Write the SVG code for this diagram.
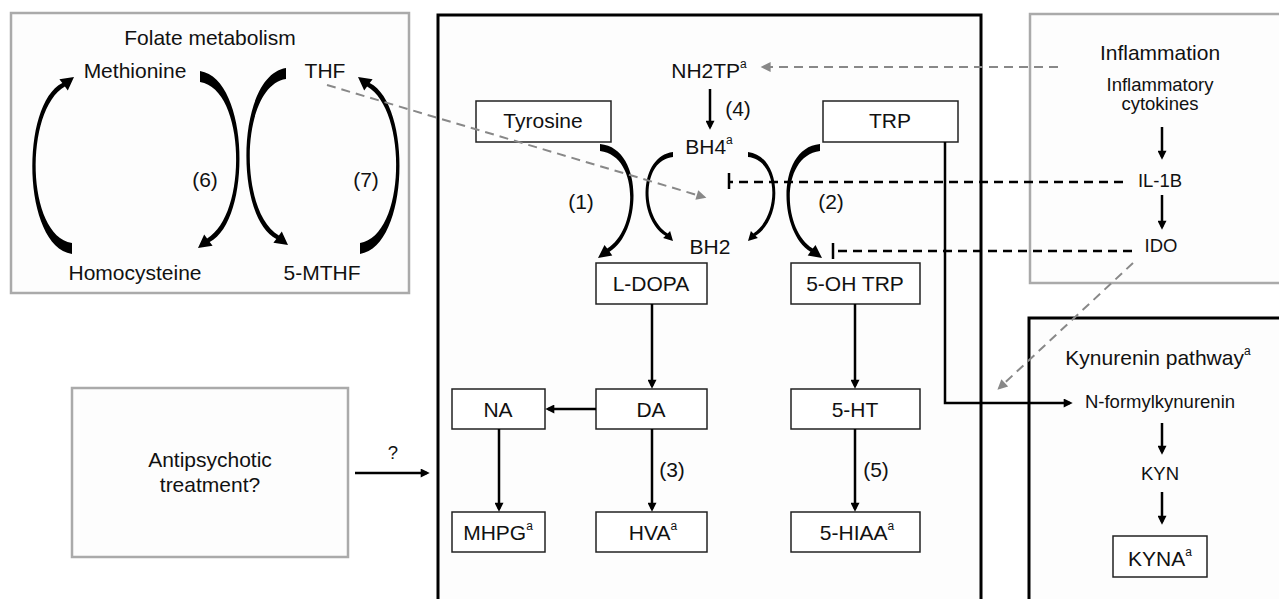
<svg xmlns="http://www.w3.org/2000/svg" width="1279" height="599" viewBox="0 0 1279 599">
<style>
text{font-family:"Liberation Sans",Arial,sans-serif;fill:#111;text-anchor:middle}
.big{font-size:21px}
.sm{font-size:18.5px}
.sup{font-size:12px}
.gbox{fill:#fdfdfd;stroke:#aaaaaa;stroke-width:2.5}
.mbox{fill:#fdfdfd;stroke:#000;stroke-width:3}
.nbox{fill:#fff;stroke:#222;stroke-width:1.5}
.arr{fill:none;stroke:#000;stroke-width:2.5;marker-end:url(#ah)}
.gdash{fill:none;stroke:#888;stroke-width:2;stroke-dasharray:9 6;marker-end:url(#gh)}
.kdash{fill:none;stroke:#000;stroke-width:2.5;stroke-dasharray:9 6}
.bar{stroke:#000;stroke-width:2.5}
.arc{fill:#000;stroke:none}
</style>
<defs>
<marker id="ah" markerUnits="userSpaceOnUse" viewBox="0 0 10 10" refX="7" refY="5" markerWidth="10" markerHeight="9" orient="auto"><path d="M0,0 L10,5 L0,10 Z" fill="#000"/></marker>
<marker id="gh" markerUnits="userSpaceOnUse" viewBox="0 0 10 10" refX="7.6" refY="5" markerWidth="13" markerHeight="10" orient="auto"><path d="M0,0 L10,5 L0,10 Z" fill="#888"/></marker>
<path id="farc" d="M72,254 C22,246 20,104 62.3,83 L59.4,79.2 L74,77 L67.8,90.4 L64.9,86.6 C24,110 26,236 72,243 Z"/>
<path id="marc" d="M600,144 C644,148 642,232 609.6,251.8 L612.3,255.4 L598,258 L604.5,245 L607.2,248.6 C638,230 640,156 600,151 Z"/>
<path id="sarc" d="M748,152 C782,156 784,218 755.5,235.7 L757.9,238.1 L748,241 L750.9,231.1 L753.3,233.5 C780,216 779,160 748,157 Z"/>
</defs>
<rect width="1279" height="599" fill="#fff"/>

<g id="folate">
<rect class="gbox" x="11" y="13" width="398" height="280"/>
<text class="big" x="210" y="45">Folate metabolism</text>
</g>
<g id="methionine"><text class="big" x="135" y="78">Methionine</text></g>
<g id="thf"><text class="big" x="325" y="78">THF</text></g>
<g id="homocysteine"><text class="big" x="135" y="280">Homocysteine</text></g>
<g id="mthf"><text class="big" x="322" y="280">5-MTHF</text></g>

<g id="antipsychotic">
<rect class="gbox" x="72" y="388" width="276" height="169"/>
<text class="big" x="210" y="467">Antipsychotic</text>
<text class="big" x="210" y="492">treatment?</text>
</g>

<g id="inflammation">
<rect class="gbox" x="1030" y="14" width="270" height="269"/>
<text class="big" x="1160" y="60">Inflammation</text>
</g>
<g id="cytokines">
<text class="sm" x="1160" y="91">Inflammatory</text>
<text class="sm" x="1160" y="110">cytokines</text>
</g>
<g id="il1b"><text class="sm" x="1160" y="187">IL-1B</text></g>
<g id="ido"><text class="sm" x="1161" y="252">IDO</text></g>

<g id="monoamine">
<rect class="mbox" x="438" y="15" width="543" height="600"/>
</g>

<g id="kynurenin">
<rect class="mbox" x="1029" y="318" width="270" height="300"/>
<text class="big" x="1158" y="365">Kynurenin pathway<tspan class="sup" dy="-10">a</tspan></text>
</g>
<g id="nformyl"><text class="sm" x="1160" y="408">N-formylkynurenin</text></g>
<g id="kyn"><text class="sm" x="1160" y="480">KYN</text></g>
<g id="kyna">
<rect class="nbox" x="1113" y="536" width="94" height="41"/>
<text class="big" x="1160" y="566">KYNA<tspan class="sup" dy="-10">a</tspan></text>
</g>

<g id="nh2tp"><text class="big" x="709" y="78">NH2TP<tspan class="sup" dy="-10">a</tspan></text></g>
<g id="bh4"><text class="big" x="709" y="154">BH4<tspan class="sup" dy="-10">a</tspan></text></g>
<g id="bh2"><text class="big" x="710" y="254">BH2</text></g>

<g id="tyrosine"><rect class="nbox" x="476" y="101" width="135" height="41"/><text class="big" x="543" y="128">Tyrosine</text></g>
<g id="trp"><rect class="nbox" x="823" y="101" width="135" height="41"/><text class="big" x="890" y="128">TRP</text></g>
<g id="ldopa"><rect class="nbox" x="596" y="263" width="111" height="41"/><text class="big" x="651" y="291">L-DOPA</text></g>
<g id="ohtrp"><rect class="nbox" x="791" y="263" width="129" height="41"/><text class="big" x="855" y="291">5-OH TRP</text></g>
<g id="na"><rect class="nbox" x="452" y="389" width="93" height="40"/><text class="big" x="498" y="417">NA</text></g>
<g id="da"><rect class="nbox" x="596" y="389" width="111" height="40"/><text class="big" x="651" y="417">DA</text></g>
<g id="ht"><rect class="nbox" x="791" y="389" width="129" height="40"/><text class="big" x="855" y="417">5-HT</text></g>
<g id="mhpg"><rect class="nbox" x="452" y="512" width="93" height="40"/><text class="big" x="498" y="540">MHPG<tspan class="sup" dy="-10">a</tspan></text></g>
<g id="hva"><rect class="nbox" x="596" y="512" width="111" height="40"/><text class="big" x="653" y="540">HVA<tspan class="sup" dy="-10">a</tspan></text></g>
<g id="hiaa"><rect class="nbox" x="791" y="512" width="129" height="40"/><text class="big" x="857" y="540">5-HIAA<tspan class="sup" dy="-10">a</tspan></text></g>

<g id="connectors">
<use href="#farc" class="arc"/>
<use href="#farc" class="arc" transform="matrix(-1,0,0,-1,272,325)"/>
<use href="#farc" class="arc" transform="matrix(1,0,0,-1,214,322)"/>
<use href="#farc" class="arc" transform="matrix(-1,0,0,1,432,0)"/>
<use href="#marc" class="arc"/>
<use href="#marc" class="arc" transform="matrix(-1,0,0,1,1420,0)"/>
<use href="#sarc" class="arc"/>
<use href="#sarc" class="arc" transform="matrix(-1,0,0,1,1421,0)"/>

<path class="gdash" d="M327,85 L704.1,197.1"/>
<path class="gdash" d="M1058,67 L763,67"/>
<path class="gdash" d="M1133,263 L999.2,388"/>

<path class="arr" d="M710,89 V127"/>
<path class="arr" d="M652,304 V386"/>
<path class="arr" d="M855,304 V386"/>
<path class="arr" d="M596,409 H548"/>
<path class="arr" d="M499,429 V509"/>
<path class="arr" d="M652,429 V509"/>
<path class="arr" d="M855,429 V509"/>
<path class="arr" d="M945,142 V403 H1070"/>
<path class="arr" d="M355,473 H427"/>
<path class="arr" d="M1162,127 V157"/>
<path class="arr" d="M1162,195 V227"/>
<path class="arr" d="M1162,423 V452"/>
<path class="arr" d="M1162,492 V522"/>

<path class="kdash" d="M1123,182 H730"/>
<path class="bar" d="M729,173 V189"/>
<path class="kdash" d="M1132,251 H834"/>
<path class="bar" d="M833,243 V259"/>

<text class="big" x="205" y="187">(6)</text>
<text class="big" x="366" y="187">(7)</text>
<text class="big" x="738" y="116">(4)</text>
<text class="big" x="581" y="209">(1)</text>
<text class="big" x="831" y="209">(2)</text>
<text class="big" x="672" y="477">(3)</text>
<text class="big" x="876" y="477">(5)</text>
<text class="sm" x="393" y="459">?</text>
</g>
</svg>
